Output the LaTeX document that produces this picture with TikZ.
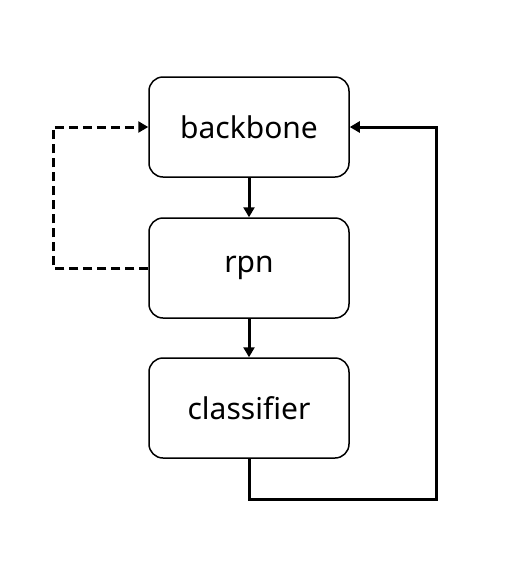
\documentclass[tikz,border=0pt]{standalone}
\usepackage{fontspec}
\setmainfont{Noto Sans}
\usetikzlibrary{arrows.meta}
\begin{document}
\begin{tikzpicture}[x=1pt,y=-1pt,
  box/.style={draw, line width=1.5pt, rounded corners=14pt, minimum width=200pt, minimum height=100pt, inner sep=0pt, font=\fontsize{30}{34}\selectfont},
  conn/.style={line width=3pt, -{Triangle[length=10pt,width=11pt]}},
  dconn/.style={conn, dash pattern=on 9pt off 5pt}]
\useasboundingbox (0,0) rectangle (514,579);
\node[box] (bb) at (249,127) {backbone};
\node[box] (rpn) at (249,268) {rpn};
\node[box] (cls) at (249,408) {classifier};
\coordinate (d1) at (53,268);
\coordinate (d2) at (53,127);
\coordinate (s1) at (249,499);
\coordinate (s2) at (436,499);
\coordinate (s3) at (436,127);
\draw[conn] (bb.south) -- (rpn.north);
\draw[conn] (rpn.south) -- (cls.north);
\draw[dconn] (rpn.west) -- (d1) -- (d2) -- (bb.west);
\draw[conn] (cls.south) -- (s1) -- (s2) -- (s3) -- (bb.east);
\end{tikzpicture}
\end{document}
